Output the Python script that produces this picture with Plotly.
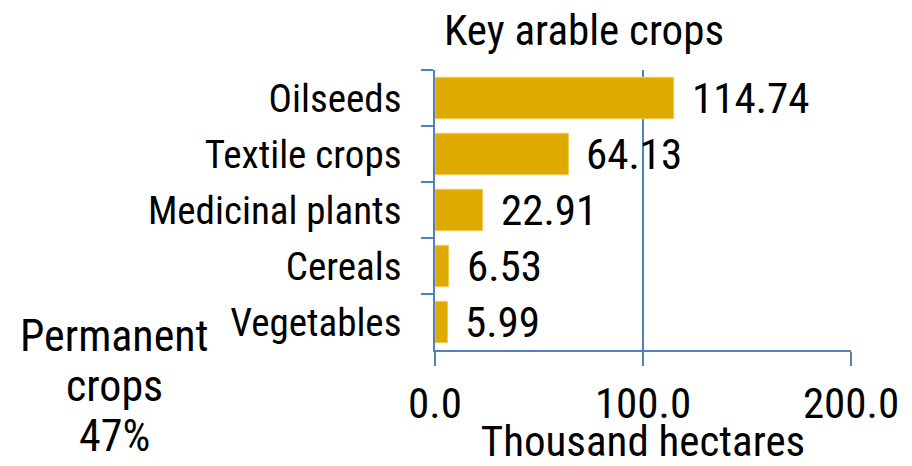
import plotly.graph_objects as go

# key arable crops, thousand hectares
crops = ['Oilseeds', 'Textile crops', 'Medicinal plants', 'Cereals', 'Vegetables']
areas = [114.74, 64.13, 22.91, 6.53, 5.99]
x_ticks = [0, 100, 200]
x_tick_labels = ['0.0', '100.0', '200.0']
side_note = ['Permanent', 'crops', '47%']

FONT = 'Liberation Sans Narrow, Roboto Condensed, Noto Sans, sans-serif'
BAR = '#DEAA00'
LINE = '#4F81BD'

# the page body has an 8px margin, so the figure is drawn 8px smaller
OFF = 8
W, H = 912 - OFF, 466 - OFF
L, R, T, B = 435 - OFF, 61, 70 - OFF, 116


def py(pix):
    # page pixel row -> paper y
    return 1 - (pix - OFF - T) / (H - T - B)


def px(pix):
    return (pix - OFF - L) / (W - L - R)


fig = go.Figure(go.Bar(
    x=areas,
    y=crops,
    orientation='h',
    marker=dict(color=BAR, line=dict(color='#EFCB5A', width=1)),
    hoverinfo='x+y',
))

# value labels next to the bars
for c, v in zip(crops, areas):
    fig.add_annotation(x=v, y=c, text=f'{v:.2f}', showarrow=False,
                       xanchor='left', yanchor='middle', xshift=16,
                       font=dict(family=FONT, size=43, color='black'))

# the "Permanent crops 47%" note, one line each
for i, line in enumerate(side_note):
    fig.add_annotation(xref='paper', yref='paper', x=px(114), y=py(336 + 50 * i),
                       text=line, showarrow=False, xanchor='center', yanchor='middle',
                       font=dict(family=FONT, size=44, color='black'))

fig.update_layout(
    width=W, height=H,
    margin=dict(l=L, r=R, t=T, b=B, pad=0, autoexpand=False),
    paper_bgcolor='white', plot_bgcolor='white',
    bargap=0.26,
    showlegend=False,
    font=dict(family=FONT, color='black'),
    title=dict(text='Key arable crops', x=(584 - OFF) / W, xanchor='center',
               y=1 - (30 - OFF) / H, yanchor='middle',
               font=dict(family=FONT, size=43, color='black')),
)

fig.update_xaxes(
    range=[0, 200], tickvals=x_ticks, ticktext=x_tick_labels,
    automargin=False,
    showgrid=True, gridcolor=LINE, gridwidth=1.5,
    showline=True, linecolor=LINE, linewidth=1.5,
    ticks='outside', ticklen=14, tickcolor=LINE, tickwidth=1.5,
    ticklabelstandoff=1,
    tickfont=dict(family=FONT, size=43, color='black'),
    zeroline=False,
    title=dict(text='Thousand hectares', standoff=5,
               font=dict(family=FONT, size=43, color='black')),
)

fig.update_yaxes(
    type='category', autorange='reversed',
    automargin=False,
    showgrid=False, zeroline=False,
    showline=True, linecolor=LINE, linewidth=1.5,
    ticks='outside', ticklen=12, tickcolor=LINE, tickwidth=1.5,
    tickson='boundaries',
    ticklabelstandoff=24,
    tickfont=dict(family=FONT, size=39, color='black'),
)

fig.write_html('out.html')
